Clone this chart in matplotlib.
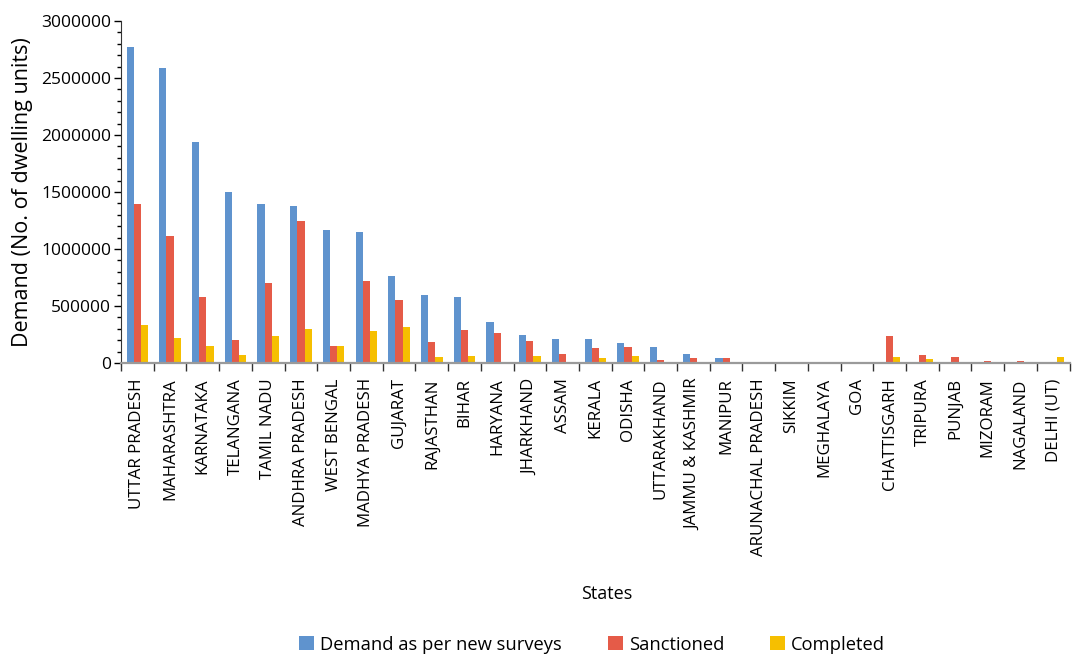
import numpy as np
import matplotlib
matplotlib.use("Agg")
import matplotlib.pyplot as plt
from matplotlib.ticker import MultipleLocator, FuncFormatter

plt.rcParams['font.family'] = ['Open Sans', 'DejaVu Sans']

states = ["UTTAR PRADESH", "MAHARASHTRA", "KARNATAKA", "TELANGANA", "TAMIL NADU",
          "ANDHRA PRADESH", "WEST BENGAL", "MADHYA PRADESH", "GUJARAT", "RAJASTHAN",
          "BIHAR", "HARYANA", "JHARKHAND", "ASSAM", "KERALA", "ODISHA", "UTTARAKHAND",
          "JAMMU & KASHMIR", "MANIPUR", "ARUNACHAL PRADESH", "SIKKIM", "MEGHALAYA",
          "GOA", "CHATTISGARH", "TRIPURA", "PUNJAB", "MIZORAM", "NAGALAND", "DELHI (UT)"]

demand = [2772000, 2588000, 1940000, 1501000, 1396000,
          1379000, 1168000, 1151000, 765000, 600000,
          575000, 356000, 242000, 207000, 207000, 172000, 137000,
          76000, 41000, 5000, 4000, 4000,
          3000, 0, 0, 0, 0, 0, 0]
sanctioned = [1396000, 1116000, 581000, 204000, 704000,
              1247000, 152000, 721000, 555000, 188000,
              286000, 260000, 190000, 76000, 128000, 137000, 23000,
              41000, 41000, 5000, 4000, 4000,
              3000, 240000, 73000, 55000, 20000, 20000, 6000]
completed = [336000, 222000, 152000, 73000, 240000,
             301000, 152000, 283000, 318000, 57000,
             58000, 5000, 58000, 5000, 41000, 58000, 5000,
             5000, 4000, 4000, 3000, 3000,
             3000, 55000, 38000, 3000, 3000, 3000, 55000]

series_names = ["Demand as per new surveys", "Sanctioned", "Completed"]
colors = ["#5F93CE", "#E55B48", "#F6BF00"]

fig = plt.figure(figsize=(10.73, 6.56), dpi=100)
ax = fig.add_axes([0.1128, 0.4466, 0.884, 0.5214])

x = np.arange(len(states))
w = 0.22
for k, (vals, name, c) in enumerate(zip([demand, sanctioned, completed], series_names, colors)):
    ax.bar(x + (k - 1) * w, vals, width=w, color=c, label=name, zorder=2)

ax.set_xlim(-0.5, len(states) - 0.5)
ax.set_ylim(0, 3000000)
ax.yaxis.set_major_locator(MultipleLocator(500000))
ax.yaxis.set_minor_locator(MultipleLocator(100000))
ax.yaxis.set_major_formatter(FuncFormatter(lambda v, p: f"{int(v)}"))
ax.tick_params(axis='y', which='major', length=5, width=1, labelsize=12.5, pad=2)
ax.tick_params(axis='y', which='minor', length=3, width=1)

# category labels at the centres, tick marks on the boundaries
ax.set_xticks(x)
ax.set_xticklabels(states, rotation=90, fontsize=12.2)
ax.tick_params(axis='x', which='major', length=0, pad=11)
ax.set_xticks(np.arange(len(states) + 1) - 0.5, minor=True)
ax.tick_params(axis='x', which='minor', length=6, width=1, color='#333333')

for s in ['top', 'right']:
    ax.spines[s].set_visible(False)
ax.spines['left'].set_color('#333333')
ax.spines['bottom'].set_color('#9a9a9a')
ax.spines['bottom'].set_linewidth(1.6)
ax.spines['bottom'].set_zorder(3)

ax.set_ylabel("Demand (No. of dwelling units)", fontsize=15.5, labelpad=6)
fig.text(0.565, 0.095, "States", ha='center', va='center', fontsize=13)

fig.legend(loc='center', bbox_to_anchor=(0.552, 0.017), ncol=3, frameon=False,
           fontsize=13.2, handlelength=0.8, handleheight=0.8, handletextpad=0.35,
           columnspacing=2.5)

fig.savefig("out.png", dpi=100)
